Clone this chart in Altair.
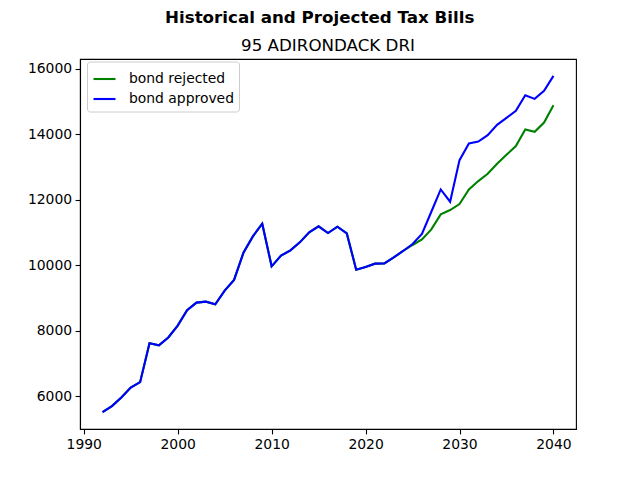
import altair as alt
import pandas as pd

years = list(range(1992, 2041))

bond_rejected = [
    5520, 5705, 5970, 6274, 6437, 7625, 7564, 7800, 8165, 8631,
    8866, 8896, 8815, 9232, 9557, 10390, 10887, 11274, 9973, 10299,
    10461, 10705, 11010, 11193, 10990, 11183, 10979, 9872, 9954, 10055,
    10064, 10247, 10442, 10625, 10796, 11100, 11558, 11692, 11875, 12320,
    12576, 12799, 13104, 13378, 13643, 14150, 14080, 14363, 14893,
]

bond_approved = [
    5520, 5705, 5970, 6274, 6437, 7625, 7564, 7800, 8165, 8631,
    8866, 8896, 8815, 9232, 9557, 10390, 10887, 11274, 9973, 10299,
    10461, 10705, 11010, 11193, 10990, 11183, 10979, 9872, 9954, 10055,
    10064, 10247, 10442, 10655, 10960, 11640, 12320, 11945, 13216, 13723,
    13784, 13978, 14293, 14506, 14720, 15198, 15085, 15329, 15787,
]

series_names = ["bond rejected", "bond approved"]
series_colors = ["green", "blue"]

df = pd.concat([
    pd.DataFrame({"year": years, "value": bond_rejected, "series": series_names[0]}),
    pd.DataFrame({"year": years, "value": bond_approved, "series": series_names[1]}),
])

FONT = "DejaVu Sans"

color = alt.Color(
    "series:N",
    scale=alt.Scale(domain=series_names, range=series_colors),
    legend=alt.Legend(
        title=None,
        orient="none",
        legendX=7,
        legendY=2.5,
        symbolType="stroke",
        symbolSize=484,
        symbolStrokeWidth=2.1,
        labelFont=FONT,
        labelFontSize=13.9,
        labelColor="black",
        labelOffset=12,
        rowPadding=-1,
        padding=5,
        strokeColor="#cccccc",
        fillColor="white",
        cornerRadius=3,
    ),
)

x = alt.X(
    "year:Q",
    scale=alt.Scale(domain=[1989.6, 2042.4], nice=False, zero=False),
    axis=alt.Axis(values=[1990, 2000, 2010, 2020, 2030, 2040], format="d", title=None),
)
y = alt.Y(
    "value:Q",
    scale=alt.Scale(domain=[5007, 16303], nice=False, zero=False),
    axis=alt.Axis(values=[6000, 8000, 10000, 12000, 14000, 16000], format="d", title=None),
)

base = alt.Chart(df).mark_line(strokeWidth=2.1, clip=True)

green_layer = base.transform_filter(alt.datum.series == series_names[0]).encode(x=x, y=y, color=color)
blue_layer = base.transform_filter(alt.datum.series == series_names[1]).encode(x=x, y=y, color=color)

panel = alt.layer(green_layer, blue_layer).properties(
    width=496,
    height=370,
    title=alt.TitleParams(
        text="95 ADIRONDACK DRI",
        anchor="middle",
        font=FONT,
        fontSize=16.7,
        fontWeight="normal",
        color="black",
        offset=4.6,
    ),
)

chart = alt.vconcat(panel).properties(
    background="white",
    padding={"left": 18, "top": 2, "right": 5, "bottom": 5},
    title=alt.TitleParams(
        text="Historical and Projected Tax Bills",
        anchor="middle",
        font=FONT,
        fontSize=16.7,
        fontWeight="bold",
        color="black",
        dx=18,
        offset=10,
    ),
).configure_view(
    stroke="black",
    strokeWidth=1.1,
).configure_axis(
    grid=False,
    domainColor="black",
    domainWidth=1.1,
    tickColor="black",
    tickWidth=1.1,
    tickSize=4.9,
    labelFont=FONT,
    labelFontSize=13.9,
    labelColor="black",
    labelPadding=3.5,
    labelFlush=False,
    labelOverlap=False,
)

chart.save("out.html", embed_options={"renderer": "svg", "actions": False})
